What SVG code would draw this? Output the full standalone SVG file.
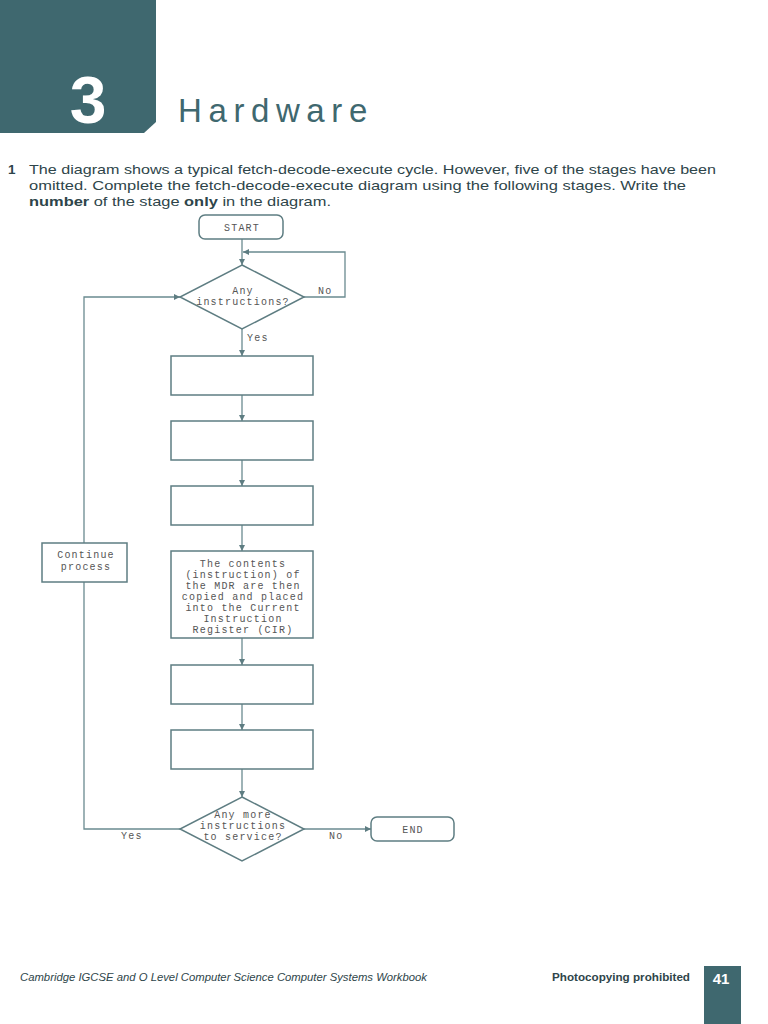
<svg xmlns="http://www.w3.org/2000/svg" width="768" height="1024" viewBox="0 0 768 1024">
<style>
.box{fill:#fff;stroke:#5e7d82;stroke-width:1.5}
.con{fill:none;stroke:#6a8a90;stroke-width:1.3}
.mono{font-family:"Liberation Mono","DejaVu Sans Mono",monospace;font-size:10px;letter-spacing:1.2px;fill:#555;text-anchor:middle}
.q{font-family:"Liberation Sans",Arial,sans-serif;font-size:13.5px;fill:#2e454a}
</style>
<defs>
<marker id="ah" viewBox="0 0 10 10" refX="10" refY="5" markerWidth="6" markerHeight="6" markerUnits="userSpaceOnUse" orient="auto">
<path d="M0,0 L10,5 L0,10 z" fill="#5e7d82"/>
</marker>
</defs>
<rect width="768" height="1024" fill="#fff"/>
<g id="header">
<path d="M0,0 H156 V122 L144,133 H0 Z" fill="#3f686f"/>
<text x="88" y="123" font-family="Liberation Sans,Arial,sans-serif" font-weight="bold" font-size="66" fill="#fff" text-anchor="middle">3</text>
<text x="178" y="122" font-family="Liberation Sans,Arial,sans-serif" font-size="33" letter-spacing="6.6" fill="#3f686f">Hardware</text>
</g>
<g id="question">
<text x="8" y="174" class="q" font-weight="bold">1</text>
<text x="29" y="174" class="q" textLength="687" lengthAdjust="spacingAndGlyphs">The diagram shows a typical fetch-decode-execute cycle. However, five of the stages have been</text>
<text x="29" y="190" class="q" textLength="657" lengthAdjust="spacingAndGlyphs">omitted. Complete the fetch-decode-execute diagram using the following stages. Write the</text>
<text x="29" y="206" class="q" textLength="302" lengthAdjust="spacingAndGlyphs"><tspan font-weight="bold">number</tspan> of the stage <tspan font-weight="bold">only</tspan> in the diagram.</text>
</g>
<g id="connectors">
<line class="con" x1="242" y1="239" x2="242" y2="265" marker-end="url(#ah)"/>
<polyline class="con" points="304,297 345,297 345,252 243,252" marker-end="url(#ah)"/>
<line class="con" x1="242" y1="329" x2="242" y2="356" marker-end="url(#ah)"/>
<line class="con" x1="242" y1="395" x2="242" y2="421" marker-end="url(#ah)"/>
<line class="con" x1="242" y1="460" x2="242" y2="486" marker-end="url(#ah)"/>
<line class="con" x1="242" y1="525" x2="242" y2="551" marker-end="url(#ah)"/>
<line class="con" x1="242" y1="638" x2="242" y2="665" marker-end="url(#ah)"/>
<line class="con" x1="242" y1="704" x2="242" y2="730" marker-end="url(#ah)"/>
<line class="con" x1="242" y1="769" x2="242" y2="797" marker-end="url(#ah)"/>
<line class="con" x1="304" y1="829" x2="371" y2="829" marker-end="url(#ah)"/>
<polyline class="con" points="180,829 84,829 84,297 180,297" marker-end="url(#ah)"/>
<text x="247" y="341" class="mono" style="text-anchor:start">Yes</text>
<text x="318" y="294" class="mono" style="text-anchor:start">No</text>
<text x="121" y="839" class="mono" style="text-anchor:start">Yes</text>
<text x="329" y="839" class="mono" style="text-anchor:start">No</text>
</g>
<g id="start">
<rect class="box" x="199" y="215" width="84" height="24" rx="6"/>
<text x="242" y="231" class="mono">START</text>
</g>
<g id="decision1">
<polygon class="box" points="242,265 304,297 242,329 180,297"/>
<text x="243" y="294" class="mono">Any</text>
<text x="243" y="305" class="mono">instructions?</text>
</g>
<g id="box1"><rect class="box" x="171" y="356" width="142" height="39"/></g>
<g id="box2"><rect class="box" x="171" y="421" width="142" height="39"/></g>
<g id="box3"><rect class="box" x="171" y="486" width="142" height="39"/></g>
<g id="box4">
<rect class="box" x="171" y="551" width="142" height="87"/>
<text x="243" y="567" class="mono">The contents</text>
<text x="243" y="578" class="mono">(instruction) of</text>
<text x="243" y="589" class="mono">the MDR are then</text>
<text x="243" y="600" class="mono">copied and placed</text>
<text x="243" y="611" class="mono">into the Current</text>
<text x="243" y="622" class="mono">Instruction</text>
<text x="243" y="633" class="mono">Register (CIR)</text>
</g>
<g id="box5"><rect class="box" x="171" y="665" width="142" height="39"/></g>
<g id="box6"><rect class="box" x="171" y="730" width="142" height="39"/></g>
<g id="continue">
<rect class="box" x="42" y="543" width="85" height="39"/>
<text x="86" y="558" class="mono">Continue</text>
<text x="86" y="570" class="mono">process</text>
</g>
<g id="decision2">
<polygon class="box" points="242,797 304,829 242,861 180,829"/>
<text x="243" y="818" class="mono">Any more</text>
<text x="243" y="829" class="mono">instructions</text>
<text x="243" y="840" class="mono">to service?</text>
</g>
<g id="end">
<rect class="box" x="371" y="817" width="83" height="24" rx="6"/>
<text x="413" y="833" class="mono">END</text>
</g>
<g id="footer">
<text x="20" y="981" font-family="Liberation Sans,Arial,sans-serif" font-style="italic" font-size="10.5" fill="#2e454a" textLength="407" lengthAdjust="spacingAndGlyphs">Cambridge IGCSE and O Level Computer Science Computer Systems Workbook</text>
<text x="552" y="981" font-family="Liberation Sans,Arial,sans-serif" font-weight="bold" font-size="10.5" fill="#2e454a" textLength="138" lengthAdjust="spacingAndGlyphs">Photocopying prohibited</text>
<rect x="704" y="966" width="37" height="58" fill="#3f686f"/>
<text x="721" y="984" font-family="Liberation Sans,Arial,sans-serif" font-weight="bold" font-size="15" fill="#fff" text-anchor="middle">41</text>
</g>
</svg>
